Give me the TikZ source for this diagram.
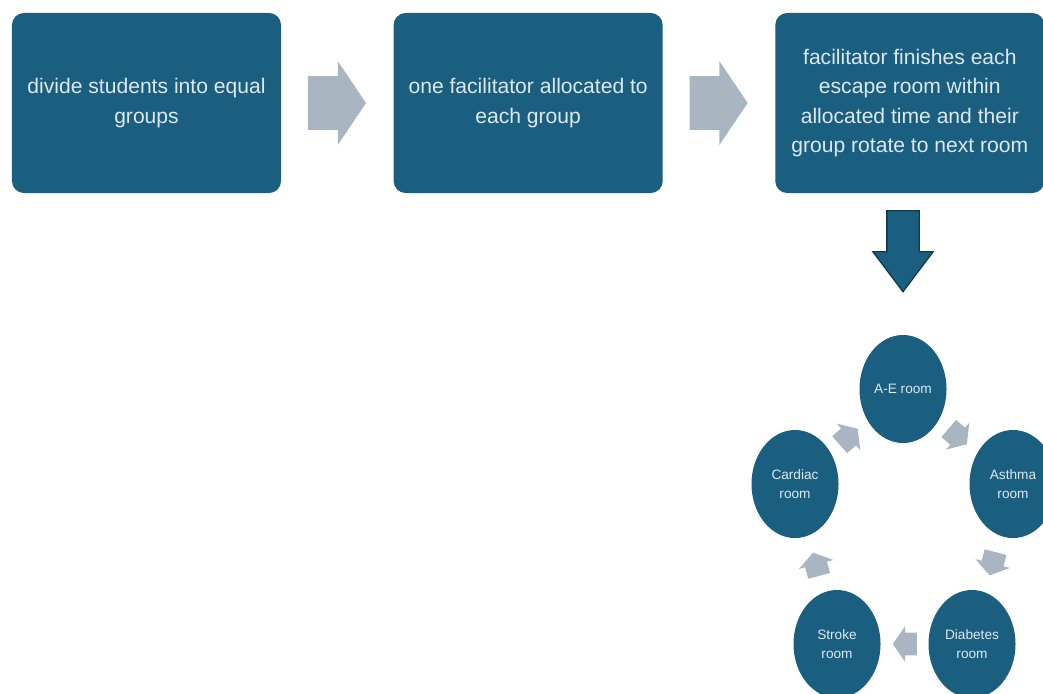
\documentclass[tikz,border=0pt]{standalone}
\usepackage{fontspec}
\setmainfont{Liberation Sans}
\usepackage{tikz}
\usetikzlibrary{shapes,shapes.geometric,shapes.arrows,positioning,calc}
\definecolor{roomblue}{HTML}{1A5E80}
\definecolor{roomtext}{HTML}{DCE8EF}
\definecolor{arrowgrey}{HTML}{A9B5C1}
\definecolor{arrowedge}{HTML}{0F3A50}

\begin{document}
\begin{tikzpicture}[x=0.025cm,y=-0.025cm,
  stepbox/.style={rectangle, rounded corners=0.3cm, fill=roomblue, text=roomtext,
    minimum width=6.725cm, minimum height=4.5cm, align=center,
    font=\fontsize{15}{21}\selectfont},
  room/.style={ellipse, fill=roomblue, text=roomtext, minimum width=2.175cm,
    minimum height=2.7cm, inner sep=0pt, align=center,
    font=\fontsize{9.7}{13.5}\selectfont},
  bigarrow/.style={single arrow, fill=arrowgrey, inner xsep=0pt, inner ysep=0.6625cm,
    minimum height=1.45cm, minimum width=2.075cm, anchor=tip,
    single arrow head extend=0.375cm, single arrow tip angle=112},
  downarrow/.style={single arrow, fill=roomblue, draw=arrowedge, line width=0.9pt,
    inner sep=0.3875cm, shape border rotate=270,
    minimum height=2.025cm, minimum width=1.475cm,
    single arrow head extend=0.35cm, single arrow tip angle=74},
  cyclearrow/.style={single arrow, fill=arrowgrey, inner xsep=0pt, inner ysep=0.275cm,
    minimum height=0.6cm, minimum width=0.875cm, anchor=tip,
    single arrow head extend=0.1625cm, single arrow tip angle=111,
    sloped, allow upside down}]
\useasboundingbox (0,0) rectangle (1043,693);
% top row
\node[stepbox] (divide) at (146.5,103) {divide students into equal\\groups};
\node[stepbox, right=2.8cm of divide] (allocate) {one facilitator allocated to\\each group};
\node[stepbox, right=2.8cm of allocate] (rotate) {facilitator finishes each\\escape room within\\allocated time and their\\group rotate to next room};
\node[bigarrow] (A1) at ($(divide.east)!0.5!(allocate.west)+(29,0)$) {};
\node[bigarrow] (A2) at ($(allocate.east)!0.5!(rotate.west)+(29,0)$) {};
\node[downarrow] (down) at (903,240.5) {};
% rooms
\node[room] (ae) at (903,389) {A-E room};
\node[room] (asthma) at (1013,484) {Asthma\\room};
\node[room] (diabetes) at (972,644) {Diabetes\\room};
\node[room] (stroke) at (837,644) {Stroke\\room};
\node[room] (cardiac) at (795,484) {Cardiac\\room};
\path (ae.center) -- (asthma.center) node[cyclearrow, pos=0.583] (C1) {};
\path (asthma.center) -- (diabetes.center) node[cyclearrow, pos=0.573] (C2) {};
\path (diabetes.center) -- (stroke.center) node[cyclearrow, pos=0.589] (C3) {};
\path (stroke.center) -- (cardiac.center) node[cyclearrow, pos=0.573] (C4) {};
\path (cardiac.center) -- (ae.center) node[cyclearrow, pos=0.583] (C5) {};
\end{tikzpicture}
\end{document}
